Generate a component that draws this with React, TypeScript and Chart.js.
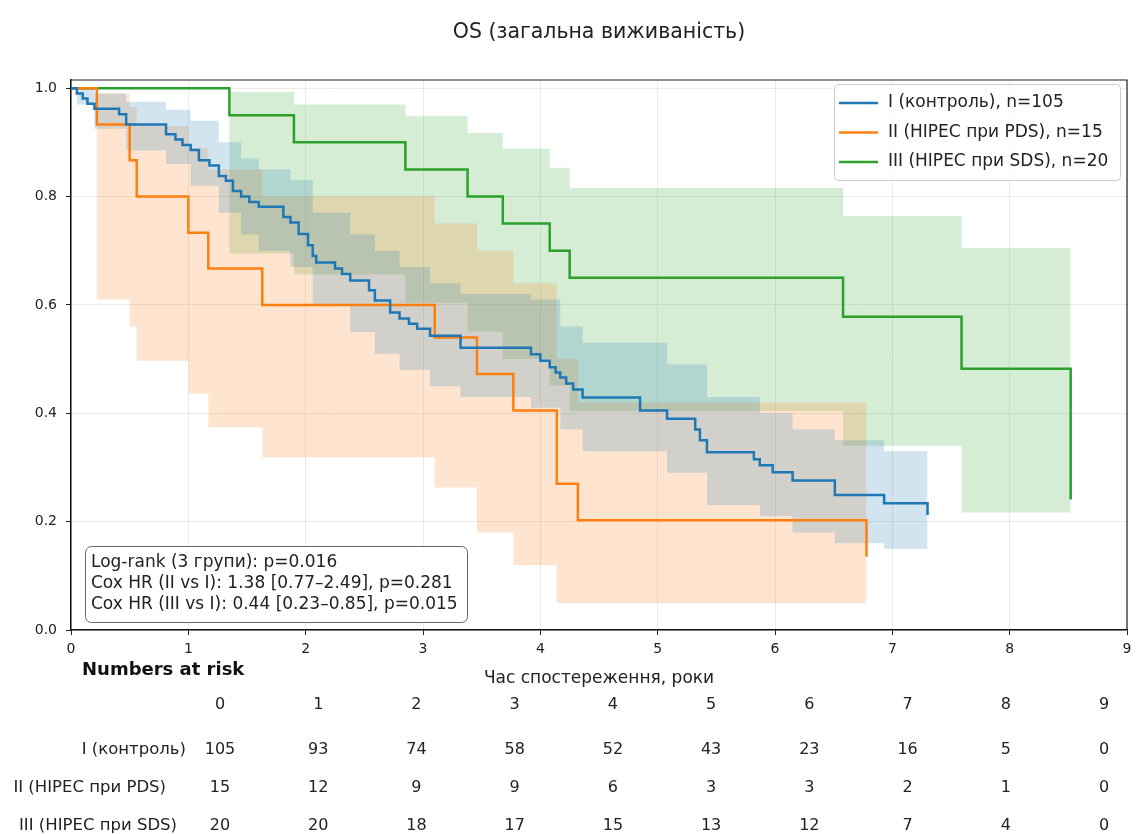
import React, { useEffect, useRef } from 'react';
import { Chart, registerables } from 'chart.js';

Chart.register(...registerables);

const FONT = "'DejaVu Sans', sans-serif";

const chartTitle = 'OS (загальна виживаність)';
const xAxisTitle = 'Час спостереження, роки';
const xTicks = [0, 1, 2, 3, 4, 5, 6, 7, 8, 9];
const yTicks = [0, 0.2, 0.4, 0.6, 0.8, 1.0];

const legendLabels = ['I (контроль), n=105', 'II (HIPEC при PDS), n=15', 'III (HIPEC при SDS), n=20'];
const seriesColors = ['#1f77b4', '#ff7f0e', '#2ca02c'];
const bandColors = ['rgba(31,119,180,0.2)', 'rgba(255,127,14,0.2)', 'rgba(44,160,44,0.2)'];

const statLines = [
  'Log-rank (3 групи): p=0.016',
  'Cox HR (II vs I): 1.38 [0.77–2.49], p=0.281',
  'Cox HR (III vs I): 0.44 [0.23–0.85], p=0.015',
];

// Numbers at risk
const riskTitle = 'Numbers at risk';
const riskTimes = [0, 1, 2, 3, 4, 5, 6, 7, 8, 9];
const riskRowLabels = ['I (контроль)', 'II (HIPEC при PDS)', 'III (HIPEC при SDS)'];
const riskI = [105, 93, 74, 58, 52, 43, 23, 16, 5, 0];
const riskII = [15, 12, 9, 9, 6, 3, 3, 2, 1, 0];
const riskIII = [20, 20, 18, 17, 15, 13, 12, 7, 4, 0];

// Group I (control) KM
const t1 = [0, 0.05, 0.10, 0.14, 0.20, 0.41, 0.47, 0.81, 0.89, 0.95, 1.02, 1.09, 1.18, 1.26, 1.32, 1.38, 1.45, 1.52, 1.60,
  1.81, 1.87, 1.94, 2.02, 2.06, 2.09, 2.25, 2.31, 2.38, 2.54, 2.59, 2.72, 2.80, 2.88, 2.95, 3.06, 3.32, 3.92, 4.00, 4.08,
  4.13, 4.17, 4.22, 4.28, 4.36, 4.85, 5.08, 5.32, 5.36, 5.42, 5.82, 5.87, 5.98, 6.15, 6.51, 6.93, 7.30];
const s1 = [1.0, 0.990, 0.981, 0.971, 0.962, 0.952, 0.933, 0.915, 0.905, 0.895, 0.886, 0.867, 0.857, 0.838, 0.829, 0.810, 0.800, 0.790, 0.781,
  0.762, 0.752, 0.731, 0.710, 0.690, 0.678, 0.667, 0.657, 0.645, 0.627, 0.608, 0.586, 0.575, 0.565, 0.556, 0.543, 0.521, 0.509, 0.497, 0.485,
  0.475, 0.466, 0.455, 0.444, 0.429, 0.405, 0.390, 0.370, 0.350, 0.328, 0.315, 0.304, 0.291, 0.276, 0.249, 0.234, 0.212];
const ci1T = [0, 0.05, 0.20, 0.47, 0.81, 1.02, 1.26, 1.45, 1.60, 1.87, 2.06, 2.38, 2.59, 2.80, 3.06, 3.32, 3.92, 4.17, 4.36, 5.08, 5.42, 5.87, 6.15, 6.51, 6.93, 7.30];
const ci1Lo = [1.0, 0.97, 0.925, 0.885, 0.86, 0.82, 0.77, 0.73, 0.70, 0.67, 0.60, 0.55, 0.51, 0.48, 0.45, 0.43, 0.41, 0.37, 0.33, 0.29, 0.23, 0.21, 0.18, 0.16, 0.15, 0.15];
const ci1Hi = [1.0, 1.0, 0.99, 0.975, 0.96, 0.94, 0.90, 0.87, 0.85, 0.83, 0.77, 0.73, 0.70, 0.67, 0.64, 0.62, 0.61, 0.56, 0.53, 0.49, 0.43, 0.40, 0.37, 0.35, 0.33, 0.33];

// Group II (HIPEC при PDS) KM
const t2 = [0, 0.22, 0.50, 0.56, 1.00, 1.17, 1.63, 3.10, 3.46, 3.77, 4.14, 4.32, 6.78];
const s2 = [1.0, 0.933, 0.867, 0.800, 0.733, 0.667, 0.600, 0.540, 0.4725, 0.405, 0.270, 0.2025, 0.135];
const ci2Lo = [1.0, 0.61, 0.56, 0.497, 0.436, 0.374, 0.319, 0.263, 0.18, 0.12, 0.05, 0.05, 0.05];
const ci2Hi = [1.0, 0.99, 0.965, 0.93, 0.89, 0.85, 0.80, 0.75, 0.70, 0.64, 0.50, 0.42, 0.42];

// Group III (HIPEC при SDS) KM
const t3 = [0, 1.35, 1.90, 2.85, 3.38, 3.68, 4.08, 4.25, 6.58, 7.59, 8.52];
const s3 = [1.0, 0.95, 0.90, 0.85, 0.80, 0.75, 0.70, 0.65, 0.578, 0.482, 0.241];
const ci3Lo = [1.0, 0.695, 0.656, 0.604, 0.551, 0.50, 0.451, 0.404, 0.34, 0.217, 0.217];
const ci3Hi = [1.0, 0.993, 0.97, 0.948, 0.917, 0.888, 0.853, 0.816, 0.764, 0.705, 0.705];

const pts = (xs: number[], ys: number[]) => xs.map((x, i) => ({ x, y: ys[i] }));

const overlayPlugin = {
  id: 'overlay',
  afterDraw(chart: any) {
    const { ctx, chartArea: a } = chart;
    ctx.save();
    // title centred over the axes
    ctx.fillStyle = '#222';
    ctx.font = `20.5px ${FONT}`;
    ctx.textAlign = 'center';
    ctx.textBaseline = 'middle';
    ctx.fillText(chartTitle, (a.left + a.right) / 2, 33);

    // frame (top and right spines)
    ctx.strokeStyle = '#222';
    ctx.lineWidth = 1.2;
    ctx.beginPath();
    ctx.moveTo(a.left, a.top);
    ctx.lineTo(a.right, a.top);
    ctx.lineTo(a.right, a.bottom);
    ctx.stroke();

    // legend
    const lx = 834, ly = 84, lw = 286, lh = 96;
    ctx.fillStyle = 'rgba(255,255,255,0.8)';
    ctx.strokeStyle = '#cccccc';
    ctx.lineWidth = 1;
    ctx.beginPath();
    ctx.roundRect(lx + 0.5, ly + 0.5, lw, lh, 4);
    ctx.fill();
    ctx.stroke();
    ctx.font = `17px ${FONT}`;
    ctx.textBaseline = 'middle';
    ctx.textAlign = 'left';
    legendLabels.forEach((lab, i) => {
      const y = 103 + i * 29.5;
      ctx.strokeStyle = seriesColors[i];
      ctx.lineWidth = 2.5;
      ctx.beginPath();
      ctx.moveTo(839, y);
      ctx.lineTo(878, y);
      ctx.stroke();
      ctx.fillStyle = '#222';
      ctx.fillText(lab, 888, y);
    });

    // stats annotation
    ctx.fillStyle = 'rgba(255,255,255,0.85)';
    ctx.strokeStyle = '#666';
    ctx.lineWidth = 1;
    ctx.beginPath();
    ctx.roundRect(85.5, 546.5, 382, 76, 6);
    ctx.fill();
    ctx.stroke();
    ctx.fillStyle = '#222';
    ctx.font = `17px ${FONT}`;
    statLines.forEach((s, i) => {
      ctx.fillText(s, 91, 563 + i * 21);
    });

    // numbers at risk table
    ctx.font = `bold 18px ${FONT}`;
    ctx.fillStyle = '#111';
    ctx.textAlign = 'left';
    ctx.fillText(riskTitle, 82, 670);
    const colX = (t: number) => 220 + t * (1104 - 220) / 9;
    ctx.font = `16px ${FONT}`;
    ctx.fillStyle = '#222';
    ctx.textAlign = 'center';
    riskTimes.forEach((t) => ctx.fillText(String(t), colX(t), 705));
    const rows = [riskI, riskII, riskIII];
    const rowY = [750, 788, 826];
    const labelRight = [186, 166, 177];
    rows.forEach((r, ri) => {
      ctx.textAlign = 'right';
      ctx.font = `16.5px ${FONT}`;
      ctx.fillText(riskRowLabels[ri], labelRight[ri], rowY[ri]);
      ctx.textAlign = 'center';
      ctx.font = `16px ${FONT}`;
      r.forEach((v, i) => ctx.fillText(String(v), colX(riskTimes[i]), rowY[ri]));
    });
    ctx.restore();
  },
};

export default function App() {
  const ref = useRef<HTMLCanvasElement | null>(null);
  useEffect(() => {
    if (!ref.current) return;
    const series = [
      { t: t1, s: s1, ciT: ci1T, lo: ci1Lo, hi: ci1Hi },
      { t: t2, s: s2, ciT: t2, lo: ci2Lo, hi: ci2Hi },
      { t: t3, s: s3, ciT: t3, lo: ci3Lo, hi: ci3Hi },
    ];
    const datasets: any[] = [];
    series.forEach((g, i) => {
      datasets.push({
        label: legendLabels[i],
        data: pts(g.t, g.s),
        borderColor: seriesColors[i],
        borderWidth: 2.5,
        stepped: 'before',
        fill: false,
        pointRadius: 0,
        order: 0,
      });
    });
    series.forEach((g, i) => {
      datasets.push({
        label: 'lo' + i,
        data: pts(g.ciT, g.lo),
        borderWidth: 0,
        borderColor: 'rgba(0,0,0,0)',
        stepped: 'before',
        fill: false,
        pointRadius: 0,
        order: 5,
      });
      datasets.push({
        label: 'hi' + i,
        data: pts(g.ciT, g.hi),
        borderWidth: 0,
        borderColor: 'rgba(0,0,0,0)',
        backgroundColor: bandColors[i],
        stepped: 'before',
        fill: '-1',
        pointRadius: 0,
        order: 5,
      });
    });

    const tickFont = { family: FONT, size: 14 };
    const chart = new Chart(ref.current, {
      type: 'line',
      data: { datasets },
      options: {
        animation: false,
        responsive: false,
        devicePixelRatio: 1,
        layout: { padding: { top: 80, right: 12, bottom: 144, left: 0 } },
        plugins: {
          legend: { display: false },
          tooltip: { enabled: false },
          title: { display: false },
        },
        scales: {
          x: {
            type: 'linear',
            min: 0,
            max: 9,
            afterBuildTicks: (s: any) => { s.ticks = xTicks.map((v) => ({ value: v })); },
            afterFit: (s: any) => { s.height = 60; },
            ticks: { font: tickFont, color: '#222', padding: 6, maxRotation: 0, callback: (v: any) => String(v) },
            grid: { color: 'rgba(0,0,0,0.08)', tickColor: '#222', tickLength: 5 },
            border: { color: '#111', width: 1.5 },
            title: { display: true, text: xAxisTitle, color: '#222', font: { family: FONT, size: 17 }, padding: { top: 0, bottom: 1 } },
          },
          y: {
            type: 'linear',
            min: 0,
            max: 1.015,
            afterBuildTicks: (s: any) => { s.ticks = yTicks.map((v) => ({ value: v })); },
            afterFit: (s: any) => { s.width = 71; },
            ticks: { font: tickFont, color: '#222', padding: 9, callback: (v: any) => Number(v).toFixed(1) },
            grid: { color: 'rgba(0,0,0,0.08)', tickColor: '#222', tickLength: 5 },
            border: { color: '#111', width: 1.5 },
          },
        },
      },
      plugins: [overlayPlugin],
    });
    return () => chart.destroy();
  }, []);

  return (
    <div style={{ position: 'absolute', left: 0, top: 0, width: 1139, height: 834, background: '#fff' }}>
      <canvas ref={ref} width={1139} height={834} style={{ display: 'block', width: 1139, height: 834 }} />
    </div>
  );
}
